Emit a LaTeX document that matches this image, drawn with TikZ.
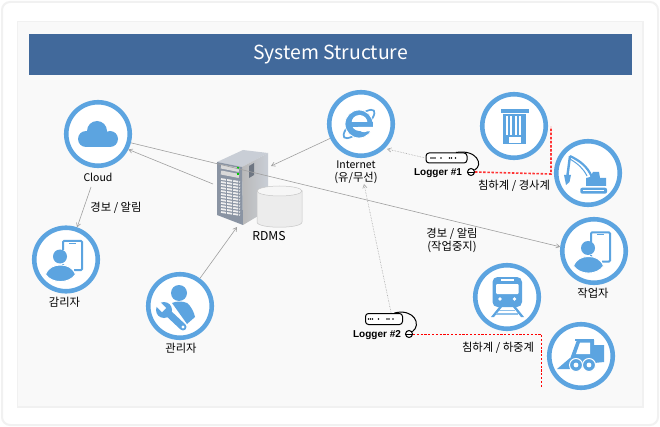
\documentclass[tikz,border=0pt]{standalone}
\usepackage{fontspec}
\setmainfont{Noto Sans CJK KR}
\newfontfamily\logfont{Liberation Sans}
\usetikzlibrary{arrows,positioning}

\definecolor{HubBlue}{HTML}{5CA4E0}
\definecolor{BarBlue}{HTML}{41699B}
\definecolor{PanelGray}{HTML}{F9F9F9}
\definecolor{FrameGray}{HTML}{F1F1F1}
\definecolor{ServerFace}{HTML}{8A94A3}
\definecolor{ServerTop}{HTML}{C9CED6}

\newcommand{\PhoneUser}{
	\draw [HubBlue, line width=2, rounded corners=1pt] (-3,-18.5) rectangle (16,10.5);
	\draw [HubBlue, line width=0.7] (3,-16.5) -- (10,-16.5);
	\fill [white] (-9,-9) rectangle (3,4);
	\fill [white] (3,4) rectangle (8,12);
	\fill [HubBlue] (-6,-3) circle (7);
	\filldraw [fill=HubBlue, draw=white, line width=1] (-20.5,15) .. controls (-18,8) and (-12,5.5) .. (-5.5,5.5) .. controls (1,5.5) and (7,8) .. (9.5,15) .. controls (3,24.5) and (-14,24.5) .. (-20.5,15) -- cycle;
}
\newcommand{\LoggerDots}{
	\foreach \px in {-15.5,-13.5,-11.5,-5.5,3,5,9}
		\fill (\px,0) circle (0.9);
}

\begin{document}
\begin{tikzpicture}[x=1pt,y=-1pt,font=\fontsize{10.5}{13}\selectfont]
	\tikzstyle{Hub}		= [circle, draw=HubBlue, fill=white, line width=4.6pt, minimum size=63.5pt, inner sep=0pt]
	\tikzstyle{Caption}	= [inner sep=0pt, align=center, text=black]
	\tikzstyle{Hangul}	= [Caption, font=\fontsize{11.3}{13.5}\selectfont]
	\tikzstyle{Tag}		= [inner sep=0pt, font=\logfont\bfseries\fontsize{10}{12}\selectfont]
	\tikzstyle{Link}	= [->, >=angle 60, gray!75, line width=0.6pt]
	\tikzstyle{Radio}	= [->, >=angle 60, gray!70, line width=0.6pt, densely dotted]
	\tikzstyle{Box}		= [draw, fill=white, rounded corners=3pt, line width=1pt, inner sep=0pt]
	\tikzstyle{Plug}	= [circle, draw, fill=white, line width=1pt, minimum size=7pt, inner sep=0pt]

	\useasboundingbox (0,0) rectangle (660,427);
	\fill [white] (0,0) rectangle (660,427);
	\draw [FrameGray, line width=2pt, rounded corners=8pt] (2,2) rectangle (658,425);
	\filldraw [fill=PanelGray, draw=FrameGray, line width=1.5pt] (17.5,21.5) rectangle (643,407);
	\node (Title) at (330.5,54.5) [fill=BarBlue, text=white, minimum width=603pt, minimum height=41pt, inner sep=0pt, font=\fontsize{19.4}{23}\selectfont] {System Structure};

	\node (Cloud) at (98,134) [Hub] {};
	\node (Monitor) at (66,259.5) [Hub] {};
	\node (Manager) at (180,306) [Hub] {};
	\node (Internet) at (361,124) [Hub] {};
	\node (Bin) at (514,126) [Hub] {};
	\node (Digger) at (588,173) [Hub] {};
	\node (Worker) at (594,251) [Hub] {};
	\node (Train) at (507,297) [Hub] {};
	\node (Loader) at (581,356) [Hub] {};

	% icons
	\begin{scope}[shift={(Cloud)}]
		\fill [HubBlue] (-1,-3) circle (10);
		\fill [HubBlue] (-12,5) circle (8);
		\fill [HubBlue] (12,5) circle (8);
		\fill [HubBlue] (-12,4) rectangle (12,13);
	\end{scope}
	\begin{scope}[shift={(Monitor)}]
		\PhoneUser
	\end{scope}
	\begin{scope}[shift={(Worker)}]
		\PhoneUser
	\end{scope}
	\begin{scope}[shift={(Manager)}]
		\fill [HubBlue] (-1,-13) circle (8);
		\fill [HubBlue] (-8,-3) .. controls (-4,-5) and (3,-5) .. (7,-3) .. controls (11,0) and (14,6) .. (15,11) -- (7,18) -- cycle;
		\draw [white, line width=10pt] (-13,6) -- (5,24);
		\fill [white] (-16,4) circle (9.5);
		\draw [HubBlue, line width=7pt, line cap=round] (-13,6) -- (3,21);
		\fill [HubBlue] (-16,4) circle (8);
		\fill [white] (-13.9,1.9) -- (-18.1,6.1) -- (-26.6,-2.4) -- (-22.4,-6.6) -- cycle;
		\fill [white] (3,21) circle (1.6);
	\end{scope}
	\begin{scope}[shift={(Internet)}]
		\begin{scope}[shift={(-2,0)}, rotate=42]
			\draw [HubBlue, line width=1.7pt] (0,0) ellipse [x radius=20pt, y radius=6.5pt];
		\end{scope}
		\filldraw [fill=HubBlue, draw=white, line width=0.8pt] (-2,0) circle (14);
		\fill [white] (-1.5,-1) circle (8);
		\fill [HubBlue] (-11,-1.5) rectangle (12,3);
		\fill [white] (-3,3) -- (14,3) -- (14,7.5) -- (6,7.5) .. controls (3,9) and (-3,8) .. (-3,3) -- cycle;
	\end{scope}
	\begin{scope}[shift={(Bin)}]
		\fill [HubBlue] (-12.7,-16.7) rectangle (14.7,-13.3);
		\fill [HubBlue] (-11,-11.7) rectangle (12.3,18.3);
		\foreach \sx in {-7.2,-2.8,1.6,6}
			\fill [white] (\sx-1,-10) rectangle (\sx+1,9);
		\fill [white] (-5.3,11.3) rectangle (7.3,17.3);
	\end{scope}
	\begin{scope}[shift={(Digger)}]
		\fill [HubBlue, rounded corners=2pt] (-7.7,14.7) rectangle (19,20.7);
		\draw [white, line width=0.8pt] (-5,17.7) -- (16,17.7);
		\fill [HubBlue] (-2,13) -- (-2,5) -- (2,4) -- (5,-1) -- (11,-1) -- (12,5) -- (18,5) -- (18,13) -- cycle;
		\draw [HubBlue, line width=2.2pt] (4,4) .. controls (-1,-7) and (-8,-12) .. (-18,-17);
		\draw [HubBlue, line width=1pt] (-18,-14) .. controls (-10,-9) and (-5,-5) .. (-1,3);
		\draw [HubBlue, line width=2.4pt] (-18,-17) -- (-20.5,2);
		\fill [HubBlue] (-24,2) -- (-17,2) -- (-18.5,9) -- (-22,12) -- cycle;
	\end{scope}
	\begin{scope}[shift={(Train)}]
		\fill [HubBlue, rounded corners=5pt] (-14.5,-20) rectangle (15,10);
		\fill [white] (-6,-18) rectangle (6.5,-16);
		\fill [white, rounded corners=1pt] (-11,-13) rectangle (11.5,-3);
		\fill [white] (-7,2) circle (1.8);
		\fill [white] (7.5,2) circle (1.8);
		\fill [HubBlue] (-8,10) -- (-5,10) -- (-13,20) -- (-16,20) -- cycle;
		\fill [HubBlue] (6,10) -- (9,10) -- (17,20) -- (14,20) -- cycle;
		\fill [HubBlue!70] (-8,12.5) rectangle (8,14);
		\fill [HubBlue!70] (-11,16) rectangle (11,17.5);
	\end{scope}
	\begin{scope}[shift={(Loader)}]
		\fill [HubBlue] (-6,-17.5) rectangle (13,-15.5);
		\fill [HubBlue] (-4,-16) -- (-11,3) -- (-11,7) -- (13,7) -- (13,-11) -- (23,-11) -- (23,6) -- (13,7) -- (13,-16) -- cycle;
		\fill [white] (-1,-13.5) -- (9,-13.5) -- (9,-2) -- (-5,-2) -- cycle;
		\fill [HubBlue] (-24,13) -- (-11,2) -- (-11,13) -- cycle;
		\foreach \wx in {-5,8} {
			\filldraw [fill=HubBlue, draw=white, line width=1pt] (\wx,9) circle (6.5);
			\fill [white] (\wx,9) circle (2.4);
		}
	\end{scope}

	% server and database
	\fill [ServerTop] (217,162) -- (243,150) -- (268,153) -- (242,167) -- cycle;
	\shade [left color=gray!55, right color=ServerTop] (242,167) -- (268,153) -- (268,210) -- (243,225) -- cycle;
	\fill [ServerFace!80!black] (249,166) -- (254,163) -- (254,175) -- (249,178) -- cycle;
	\fill [ServerFace] (217,162) -- (242,167) -- (243,225) -- (217,215) -- cycle;
	\draw [gray!30, line width=4pt] (221,166.5) -- (239,170);
	\draw [gray!30, line width=4pt] (221,172.5) -- (239,176);
	\fill [green!80!black] (236.5,167.5) rectangle (239,169);
	\fill [green!80!black] (236.5,173.5) rectangle (239,175);
	\foreach \row in {0,...,11}
		\draw [gray!12, line width=1.7pt, dash pattern=on 5pt off 1.2pt] (221,179+3*\row) -- (240,182+3*\row);
	\node (DbBody) at (279.5,209) [minimum width=45pt, minimum height=36pt, inner sep=0pt] {};
	\filldraw [fill=gray!15, draw=gray!45, line width=0.5pt] (257,191) -- (257,222) .. controls (257,229) and (302,229) .. (302,222) -- (302,191) -- cycle;
	\filldraw [fill=gray!7, draw=gray!45, line width=0.5pt] (279.5,191) ellipse [x radius=22.5pt, y radius=5pt];

	% connector ends
	\coordinate (ServerW) at (213,184);
	\coordinate (ServerE) at (271,166);
	\coordinate (ServerS) at (237,227);
	\coordinate (CloudS) at (91,187);
	\coordinate (InternetE) at (387,149);
	\coordinate (InternetS) at (364,184);
	\coordinate (BendA) at (551,174);
	\coordinate (EndA) at (551,127);
	\coordinate (BendB) at (541,334);
	\coordinate (EndB) at (541,387);

	% loggers
	\node (Logger1) at (446.5,158) [Box, minimum width=41pt, minimum height=10pt] {};
	\node (Logger2) at (384,319) [Box, minimum width=37pt, minimum height=11pt] {};
	\node (Plug1) at (471,172) [Plug] {};
	\node (Plug2) at (409,334) [Plug] {};
	\begin{scope}[shift={(Logger1)}]
		\LoggerDots
	\end{scope}
	\begin{scope}[shift={(Logger2)}]
		\LoggerDots
	\end{scope}
	\draw [line width=1pt] (Logger1.30) .. controls (477,149) and (484,165) .. (Plug1);
	\draw [line width=1pt] (Logger2.30) .. controls (414,308) and (422,325) .. (Plug2);
	\draw [line width=0.6pt] (Plug1.west) -- (Plug1.east);
	\draw [line width=0.6pt] (Plug2.west) -- (Plug2.east);

	\draw [Link] (Cloud.-15) -- (Worker.173);
	\draw [Link] (ServerW) -- (Cloud.-27);
	\draw [Link] (Internet) -- (ServerE);
	\draw [Link] (CloudS) -- (Monitor);
	\draw [Link] (Manager) -- (ServerS);
	\draw [Radio] (Logger1.west) -- (InternetE);
	\draw [Radio] (Logger2.40) -- (InternetS);

	\draw [red!80!white, line width=1.6pt, dash pattern=on 2.5pt off 1.6pt] (Plug1.east) -- (BendA) -- (EndA);
	\draw [red, line width=1pt, dash pattern=on 2.2pt off 1.6pt] (Plug2.east) -- (BendB) -- (EndB);

	% labels
	\node (CloudText) at (98,177) [Caption] {Cloud};
	\node (MonitorText) at (64.5,302) [Hangul] {감리자};
	\node (ManagerText) at (181,348) [Hangul] {관리자};
	\node (DbText) at (269,236) [Caption, font=\fontsize{12.2}{14}\selectfont] {RDMS};
	\node (InternetText) at (356,172.5) [Caption] {Internet\\{\fontsize{11.3}{13}\selectfont (유/무선)}};
	\node (WorkerText) at (593,293) [Hangul] {작업자};
	\node (AlarmA) at (116,208) [Hangul] {경보 / 알림};
	\node (AlarmB) at (452,240.5) [Hangul] {경보 / 알림\\(작업중지)};
	\node (SensorA) at (514,186) [Hangul] {침하계 / 경사계};
	\node (SensorB) at (498,348) [Hangul] {침하계 / 하중계};
	\node (TagA) at (438,173) [Tag] {Logger \#1};
	\node (TagB) at (377,335) [Tag] {Logger \#2};
\end{tikzpicture}
\end{document}
